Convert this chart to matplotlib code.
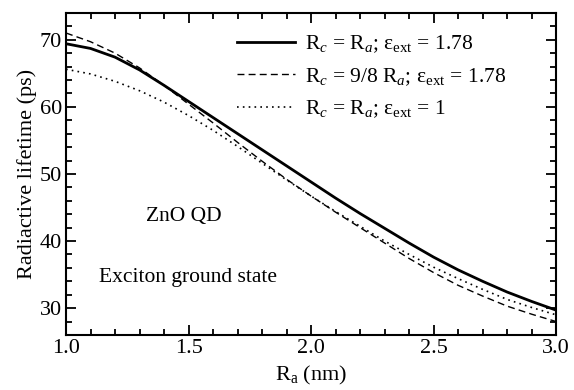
import matplotlib
matplotlib.use("Agg")
import matplotlib.pyplot as plt
from matplotlib.ticker import MultipleLocator

plt.rcParams['font.family'] = ['Liberation Serif', 'DejaVu Serif']
plt.rcParams['mathtext.fontset'] = 'custom'
plt.rcParams['mathtext.rm'] = 'Liberation Serif'
plt.rcParams['mathtext.it'] = 'Liberation Serif:italic'

# radius R_a (nm)
ra = [1.0, 1.1, 1.2, 1.3, 1.4, 1.5, 1.6, 1.7, 1.8, 1.9, 2.0,
      2.1, 2.2, 2.3, 2.4, 2.5, 2.6, 2.7, 2.8, 2.9, 3.0]
# radiative lifetime (ps)
tau_solid = [69.4, 68.7, 67.4, 65.5, 63.2, 60.8, 58.4, 56.0, 53.6, 51.2, 48.8,
             46.4, 44.1, 41.9, 39.7, 37.6, 35.7, 34.0, 32.4, 31.0, 29.7]
tau_dashed = [71.0, 69.7, 68.0, 65.8, 63.2, 60.4, 57.6, 54.7, 51.9, 49.2, 46.7,
              44.3, 42.0, 39.7, 37.4, 35.3, 33.4, 31.8, 30.3, 29.1, 28.0]
tau_dotted = [65.6, 64.9, 63.8, 62.4, 60.7, 58.7, 56.5, 54.1, 51.6, 49.1, 46.7,
              44.4, 42.2, 40.0, 38.0, 36.1, 34.4, 32.8, 31.3, 30.1, 29.0]

labels = [r"R$_c$ = R$_a$; ε$_{\mathrm{ext}}$ = 1.78",
          r"R$_c$ = 9/8 R$_a$; ε$_{\mathrm{ext}}$ = 1.78",
          r"R$_c$ = R$_a$; ε$_{\mathrm{ext}}$ = 1"]

fig = plt.figure(figsize=(5.74, 3.9), dpi=100)
ax = fig.add_axes([0.115, 0.141, 0.854, 0.826])

ax.plot(ra, tau_solid, color="black", lw=2.0, label=labels[0])
ax.plot(ra, tau_dashed, color="black", lw=1.0, dashes=(5, 3), label=labels[1])
ax.plot(ra, tau_dotted, color="black", lw=1.2, dashes=(1, 2.5), label=labels[2])

ax.set_xlim(1.0, 3.0)
ax.set_ylim(26, 74)
ax.xaxis.set_major_locator(MultipleLocator(0.5))
ax.xaxis.set_minor_locator(MultipleLocator(0.1))
ax.yaxis.set_major_locator(MultipleLocator(10))
ax.yaxis.set_minor_locator(MultipleLocator(2))
ax.tick_params(which="both", direction="in", top=True, right=True, labelsize=16, width=1.3)
ax.tick_params(which="major", length=7, pad=3)
ax.tick_params(which="minor", length=4)
for s in ax.spines.values():
    s.set_linewidth(1.5)

ax.set_xlabel(r"R$_{\mathrm{a}}$ (nm)", fontsize=16, labelpad=4)
ax.set_ylabel("Radiactive lifetime (ps)", fontsize=16, labelpad=2)

ax.text(1.48, 43.6, "ZnO QD", fontsize=15.5, ha="center", va="center")
ax.text(1.135, 34.6, "Exciton ground state", fontsize=15.5, ha="left", va="center")

ax.legend(loc="upper left", frameon=False, fontsize=15.5, handlelength=2.7,
          handletextpad=0.47, labelspacing=0.5, borderpad=0, borderaxespad=0,
          bbox_to_anchor=(0.349, 0.935))

fig.savefig("out.png", dpi=100)
